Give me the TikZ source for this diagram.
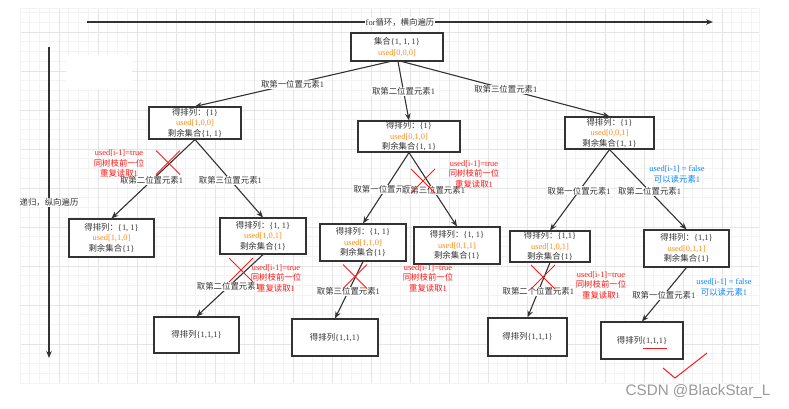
\documentclass[tikz,border=0pt]{standalone}
\usepackage{fontspec}
\setmainfont{Liberation Serif}
\newfontfamily\cjk{Noto Sans CJK SC}
\newfontfamily\wmfont{Liberation Sans}
\usetikzlibrary{arrows.meta,calc}
\newcommand{\zh}[1]{{\cjk #1}}
\definecolor{ink}{HTML}{333333}
\definecolor{usedor}{HTML}{FF8C1A}
\definecolor{warnred}{HTML}{FF1A1A}
\definecolor{okblue}{HTML}{0A84FF}
\definecolor{gridminor}{HTML}{F3F3F3}
\definecolor{gridmajor}{HTML}{E5E5E5}
\definecolor{wmgray}{HTML}{9A9A9A}
\tikzset{
  txt/.style={font=\fontsize{8.4}{10.5}\selectfont},
  box/.style={draw=ink, line width=1.1pt, fill=white, align=center, text=ink, txt, inner sep=0pt},
  conn/.style={draw=ink, line width=1.1pt, -{Stealth[length=7pt,width=5.5pt]}},
  lbl/.style={fill=white, text=ink, txt, inner sep=0.6pt},
  redx/.style={draw=warnred, line width=0.9pt},
  warn/.style={align=center, text=warnred, txt, inner sep=0pt},
  okay/.style={align=center, text=okblue, txt, inner sep=0pt},
  gminor/.style={draw=gridminor, line width=0.6pt},
  gmajor/.style={draw=gridmajor, line width=0.8pt},
}
\newcommand{\usedtxt}[1]{\textcolor{usedor}{used[#1]}}
\newcommand{\warntxt}{used[i-1]=true\\\zh{同树枝前一位}\\\zh{重复读取}1}
\newcommand{\oktxt}{used[i-1] = false\\\zh{可以读元素}1}
\begin{document}
\begin{tikzpicture}[x=1pt,y=-1pt]
\useasboundingbox (0,0) rectangle (789,408);
\fill[white] (0,0) rectangle (789,408);
% grid
\begin{scope}
\clip (20,8) rectangle (759.5,383);
\foreach \i in {0,...,76} \draw[gminor] ({20+9.75*\i},8) -- ({20+9.75*\i},383);
\foreach \j in {0,...,39} \draw[gminor] (20,{383-9.75*\j}) -- (759.5,{383-9.75*\j});
\foreach \i in {0,4,...,76} \draw[gmajor] ({20+9.75*\i},8) -- ({20+9.75*\i},383);
\foreach \j in {0,4,...,39} \draw[gmajor] (20,{383-9.75*\j}) -- (759.5,{383-9.75*\j});
\end{scope}
\draw[gminor] (20,8) rectangle (759.5,383);
\fill[white] (66,55) rectangle (132,89);

% axes
\coordinate (hs) at (87,22);
\coordinate (he) at (713,22);
\draw[conn] (hs) -- node[lbl,pos=0.5]{for\zh{循环，横向遍历}} (he);
\coordinate (vs) at (49,47);
\coordinate (ve) at (49,358);
\draw[conn] (vs) -- node[lbl,pos=0.5]{\zh{递归，纵向遍历}} (ve);

% nodes
\node[box, minimum width=92pt, minimum height=28pt] (root) at (397,47)
  {\zh{集合}\{1, 1, 1\}\\\usedtxt{0,0,0}};
\node[box, minimum width=92pt, minimum height=32pt] (l1a) at (195,123)
  {\zh{得排列：}\{1\}\\\usedtxt{1,0,0}\\\zh{剩余集合}\{1, 1\}};
\node[box, minimum width=102pt, minimum height=31pt] (l1b) at (409,136.5)
  {\zh{得排列：}\{1\}\\\usedtxt{0,1,0}\\\zh{剩余集合}\{1, 1\}};
\node[box, minimum width=89pt, minimum height=32pt] (l1c) at (609.5,133)
  {\zh{得排列：}\{1\}\\\usedtxt{0,0,1}\\\zh{剩余集合}\{1, 1\}};
\node[box, minimum width=85pt, minimum height=38pt] (l2a) at (111.5,238)
  {\zh{得排列：}\{1, 1\}\\\usedtxt{1,1,0}\\\zh{剩余集合}\{1\}};
\node[box, minimum width=86pt, minimum height=36pt] (l2b) at (263,236)
  {\zh{得排列：}\{1, 1\}\\\usedtxt{1,0,1}\\\zh{剩余集合}\{1\}};
\node[box, minimum width=86pt, minimum height=37pt] (l2c) at (363,242.5)
  {\zh{得排列：}\{1, 1\}\\\usedtxt{1,1,0}\\\zh{剩余集合}\{1\}};
\node[box, minimum width=86pt, minimum height=37pt] (l2d) at (457,245.5)
  {\zh{得排列：}\{1, 1\}\\\usedtxt{0,1,1}\\\zh{剩余集合}\{1\}};
\node[box, minimum width=80pt, minimum height=31pt] (l2e) at (550,246.5)
  {\zh{得排列：}\{1,1\}\\\usedtxt{1,0,1}\\\zh{剩余集合}\{1\}};
\node[box, minimum width=85pt, minimum height=37pt] (l2f) at (686.5,248.5)
  {\zh{得排列：}\{1,1\}\\\usedtxt{0,1,1}\\\zh{剩余集合}\{1\}};
\node[box, minimum width=85pt, minimum height=36pt] (leaf1) at (196.5,335) {\zh{得排列}\{1,1,1\}};
\node[box, minimum width=86pt, minimum height=37pt] (leaf2) at (335,337.5) {\zh{得排列}\{1,1,1\}};
\node[box, minimum width=79pt, minimum height=38pt] (leaf3) at (527.5,337) {\zh{得排列}\{1,1,1\}};
\node[box, minimum width=82pt, minimum height=37pt] (leaf4) at (642,340.5) {\zh{得排列}\{1,1,1\}};

% connectors
\draw[conn] ($(root.south)+(-7,0)$) -- node[lbl,pos=0.5]{\zh{取第一位置元素}1} (l1a.north);
\draw[conn] ($(root.south)+(1,0)$) -- node[lbl,pos=0.5]{\zh{取第二位置元素}1} (l1b.north);
\draw[conn] ($(root.south)+(5,0)$) -- node[lbl,pos=0.5]{\zh{取第三位置元素}1} (l1c.north);
\draw[conn] (l1a.south) -- node[lbl,pos=0.52]{\zh{取第二位置元素}1} (l2a.north);
\draw[conn] (l1a.south) -- node[lbl,pos=0.52]{\zh{取第三位置元素}1} (l2b.north);
\draw[conn] (l2b.south) -- node[lbl,pos=0.52]{\zh{取第二位置元素}1} (leaf1.north);
\draw[conn] (l1b.south) -- node[lbl,pos=0.52]{\zh{取第一位置元素}1} (l2c.north);
\draw[conn] (l1b.south) -- node[lbl,pos=0.51]{\zh{取第三位置元素}1} (l2d.north);
\draw[conn] (l2c.south) -- node[lbl,pos=0.52]{\zh{取第三位置元素}1} (leaf2.north);
\draw[conn] (l1c.south) -- node[lbl,pos=0.51]{\zh{取第一位置元素}1} (l2e.north);
\draw[conn] (l1c.south) -- node[lbl,pos=0.52]{\zh{取第二位置元素}1} (l2f.north);
\draw[conn] (l2e.south) -- node[lbl,pos=0.52]{\zh{取第二个位置元素}1} (leaf3.north);
\draw[conn] (l2f.south) -- node[lbl,pos=0.51]{\zh{取第一位置元素}1} (leaf4.north);

% red crosses
\foreach \c in {(168,162.5),(241,270),(423,181),(355,276.5),(543,277)} {
  \draw[redx] \c ++(-12,-12) -- ++(24,24);
  \draw[redx] \c ++(12,-12) -- ++(-24,24);
}

% notes
\node[warn] (w1) at (119,163.5) {\warntxt};
\node[warn] (w2) at (276,278) {\warntxt};
\node[warn] (w3) at (474,174) {\warntxt};
\node[warn] (w4) at (428,278) {\warntxt};
\node[warn] (w5) at (601,285) {\warntxt};
\node[okay] (o1) at (677,174.5) {\oktxt};
\node[okay] (o2) at (724,287.5) {\oktxt};

% underline and check
\draw[warnred, line width=1pt] ($(leaf4.center)+(1,7.5)$) -- ($(leaf4.center)+(25,7.5)$);
\draw[warnred, line width=1pt] (663,368) -- (675,378) -- (707,353);

% watermark
\node[text=wmgray, font=\wmfont\fontsize{15.2}{17}\selectfont, inner sep=0pt] (wm) at (698,391) {CSDN @BlackStar\_L};
\end{tikzpicture}
\end{document}
